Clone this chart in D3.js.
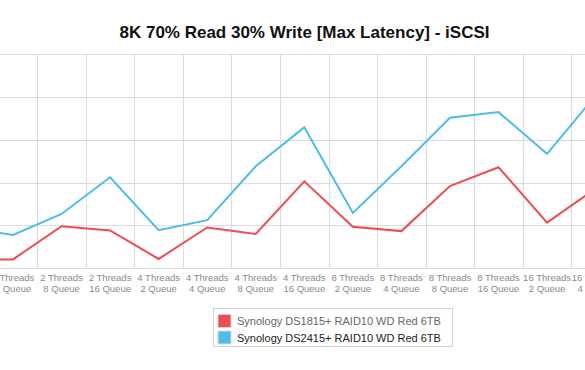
<!DOCTYPE html>
<html>
<head>
<meta charset="utf-8">
<script src="https://cdn.jsdelivr.net/npm/d3@7"></script>
<style>
body{margin:0;background:#fff;overflow:hidden;}
svg{display:block;font-family:"Liberation Sans",Arial,Helvetica,sans-serif;}
</style>
</head>
<body>
<div id="chart"></div>
<script>
// 数据（第一个和最后一个类别在画面外）
var threads=["2 Threads","2 Threads","2 Threads","2 Threads","4 Threads","4 Threads","4 Threads","4 Threads","8 Threads","8 Threads","8 Threads","8 Threads","16 Threads","16 Threads"];
var queues=["2 Queue","4 Queue","8 Queue","16 Queue","2 Queue","4 Queue","8 Queue","16 Queue","2 Queue","4 Queue","8 Queue","16 Queue","2 Queue","4 Queue"];
var ds1815=[9.5,10.4,49.1,44.1,10.9,47.6,40.1,101.4,48.4,43.4,96.0,117.9,53.3,93.0];
var ds2415=[47.9,38.8,63.4,106.2,44.5,56.1,119.0,164.4,64.6,119.0,175.6,182.2,133.5,201.6];
var seriesNames=["Synology DS1815+ RAID10 WD Red 6TB","Synology DS2415+ RAID10 WD Red 6TB"];
var colors=["#ee4c52","#4dbceb"];
var yTicks=[0,50,100,150,200,250];

var width=585,height=370;
/*绘图区位置*/
var plotTop=54,plotBottom=268.3;
var step=48.55;
var plotLeft=13-step*1.5;   //第一个类别在画面左边之外

var svg=d3.select("#chart").append("svg")
    .attr("width",width)
    .attr("height",height);

var cats=queues.map(function(q,i){return i;});
var x=d3.scaleBand()
    .domain(cats)
    .range([plotLeft,plotLeft+step*cats.length]);
var y=d3.scaleLinear()
    .domain([0,250])
    .range([plotBottom,plotTop]);

/*网格线*/
svg.append("g").selectAll("line")
    .data(yTicks)
    .enter().append("line")
    .attr("x1",0).attr("x2",width)
    .attr("y1",function(d){return Math.round(y(d))+0.5;})
    .attr("y2",function(d){return Math.round(y(d))+0.5;})
    .attr("stroke","#dcdcdc").attr("stroke-width",1);
svg.append("g").selectAll("line")
    .data(cats.slice(1))
    .enter().append("line")
    .attr("x1",function(d){return Math.round(x(d))+0.5;})
    .attr("x2",function(d){return Math.round(x(d))+0.5;})
    .attr("y1",Math.round(y(250))+0.5).attr("y2",Math.round(y(0))+0.5)
    .attr("stroke","#dcdcdc").attr("stroke-width",1);

/*x轴标签*/
var xAxis=d3.axisBottom(x).tickSize(0).tickPadding(0).tickFormat("");
var gx=svg.append("g").attr("transform","translate(0,"+y(0)+")").call(xAxis);
gx.select(".domain").remove();
gx.selectAll(".tick").each(function(d){
    var t=d3.select(this).append("text")
        .attr("text-anchor","middle")
        .attr("fill","#8a8a8a")
        .style("font-size","9.5px");
    t.append("tspan").attr("x",0).attr("y",13).text(threads[d]);
    t.append("tspan").attr("x",0).attr("y",24).text(queues[d]);
});

/*折线*/
var line=d3.line()
    .x(function(d,i){return x(i)+x.bandwidth()/2;})
    .y(function(d){return y(d);});
[ds1815,ds2415].forEach(function(s,k){
    svg.append("path")
        .datum(s)
        .attr("d",line)
        .attr("fill","none")
        .attr("stroke",colors[k])
        .attr("stroke-width",2)
        .attr("stroke-linejoin","miter");
});

/*标题*/
svg.append("text")
    .attr("x",304.5).attr("y",38)
    .attr("text-anchor","middle")
    .attr("fill","#111")
    .style("font-size","17px")
    .style("font-weight","bold")
    .text("8K 70% Read 30% Write [Max Latency] - iSCSI");

/*图例*/
var lg=svg.append("g").attr("transform","translate(213.5,308.5)");
lg.append("rect").attr("width",239).attr("height",38)
    .attr("fill","#fff").attr("stroke","#cfcfcf");
seriesNames.forEach(function(n,k){
    var g=lg.append("g").attr("transform","translate(4.5,"+(6+k*16.5)+")");
    g.append("rect").attr("width",13).attr("height",13)
        .attr("fill",colors[k]).attr("stroke","#d8d8d8");
    g.append("text").attr("x",19).attr("y",10.5)
        .attr("fill",k==0?"#666":"#222")
        .style("font-size","11px")
        .text(n);
});
</script>
</body>
</html>
